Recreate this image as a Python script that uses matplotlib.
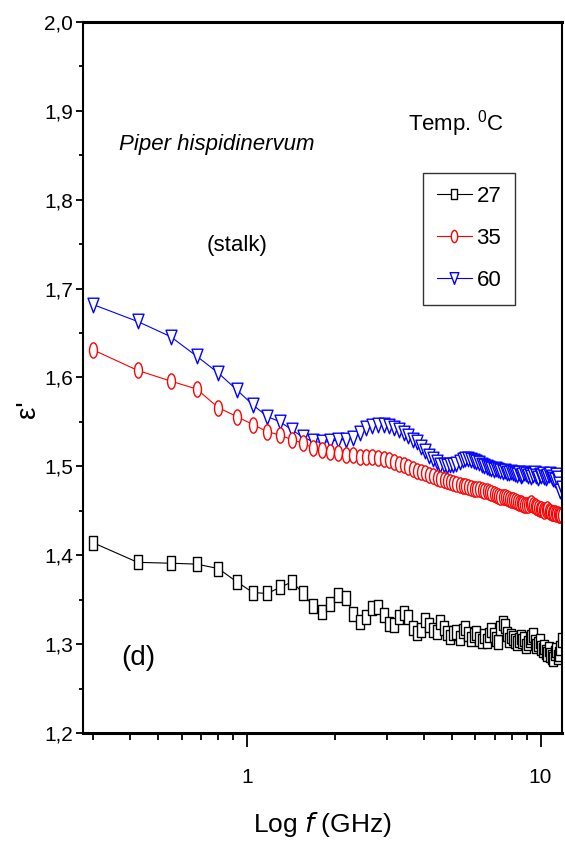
import matplotlib
matplotlib.use("Agg")
import matplotlib.pyplot as plt
from matplotlib.path import Path
from matplotlib.transforms import Affine2D
from matplotlib.ticker import FixedLocator, FixedFormatter, LogLocator, NullFormatter

# ── Data ───────────────────────────────────────────────────────────────
freq_ghz = [
    0.3, 0.425, 0.55, 0.675, 0.8, 0.925, 1.05, 1.175, 1.3, 1.425,
    1.55, 1.675, 1.8, 1.925, 2.05, 2.175, 2.3, 2.425, 2.55, 2.675,
    2.8, 2.925, 3.05, 3.175, 3.3, 3.425, 3.55, 3.675, 3.8, 3.925,
    4.05, 4.175, 4.3, 4.425, 4.55, 4.675, 4.8, 4.925, 5.05, 5.175,
    5.3, 5.425, 5.55, 5.675, 5.8, 5.925, 6.05, 6.175, 6.3, 6.425,
    6.55, 6.675, 6.8, 6.925, 7.05, 7.175, 7.3, 7.425, 7.55, 7.675,
    7.8, 7.925, 8.05, 8.175, 8.3, 8.425, 8.55, 8.675, 8.8, 8.925,
    9.05, 9.175, 9.3, 9.425, 9.55, 9.675, 9.8, 9.925, 10.05, 10.175,
    10.3, 10.425, 10.55, 10.675, 10.8, 10.925, 11.05, 11.175, 11.3, 11.425,
    11.55, 11.675, 11.8,
]

eps_27 = [
    1.414, 1.392, 1.391, 1.390, 1.385, 1.370, 1.358, 1.357, 1.364, 1.370,
    1.358, 1.343, 1.336, 1.345, 1.355, 1.352, 1.334, 1.325, 1.331, 1.341,
    1.342, 1.333, 1.323, 1.322, 1.330, 1.335, 1.330, 1.318, 1.313, 1.316,
    1.327, 1.322, 1.316, 1.314, 1.325, 1.318, 1.312, 1.308, 1.313, 1.314,
    1.307, 1.315, 1.318, 1.311, 1.306, 1.310, 1.313, 1.306, 1.304, 1.309,
    1.303, 1.310, 1.316, 1.310, 1.306, 1.302, 1.318, 1.324, 1.320, 1.311,
    1.305, 1.309, 1.307, 1.303, 1.301, 1.305, 1.308, 1.303, 1.306, 1.298,
    1.301, 1.305, 1.308, 1.310, 1.302, 1.298, 1.300, 1.303, 1.296, 1.293,
    1.297, 1.291, 1.289, 1.294, 1.288, 1.285, 1.283, 1.290, 1.293, 1.286,
    1.289, 1.296, 1.305,
]

eps_35 = [
    1.631, 1.608, 1.596, 1.587, 1.566, 1.556, 1.547, 1.539, 1.535, 1.530,
    1.526, 1.521, 1.518, 1.516, 1.515, 1.513, 1.513, 1.511, 1.511, 1.510,
    1.509, 1.508, 1.507, 1.505, 1.503, 1.501, 1.499, 1.497, 1.495, 1.494,
    1.492, 1.490, 1.489, 1.487, 1.486, 1.485, 1.484, 1.482, 1.481, 1.480,
    1.479, 1.478, 1.478, 1.477, 1.476, 1.475, 1.475, 1.474, 1.473, 1.472,
    1.472, 1.471, 1.470, 1.469, 1.468, 1.467, 1.466, 1.466, 1.465, 1.464,
    1.463, 1.462, 1.462, 1.461, 1.460, 1.459, 1.459, 1.458, 1.457, 1.456,
    1.456, 1.458, 1.459, 1.457, 1.455, 1.454, 1.453, 1.452, 1.452, 1.451,
    1.450, 1.451, 1.452, 1.450, 1.449, 1.448, 1.447, 1.447, 1.446, 1.446,
    1.445, 1.445, 1.445,
]

eps_60 = [
    1.682, 1.663, 1.646, 1.624, 1.605, 1.586, 1.569, 1.556, 1.550, 1.541,
    1.533, 1.528, 1.527, 1.528, 1.530, 1.530, 1.532, 1.538, 1.543, 1.545,
    1.546, 1.546, 1.545, 1.543, 1.541, 1.538, 1.534, 1.530, 1.527, 1.522,
    1.517, 1.512, 1.508, 1.505, 1.502, 1.501, 1.500, 1.501, 1.502, 1.503,
    1.505, 1.507, 1.508, 1.508, 1.507, 1.506, 1.505, 1.504, 1.502, 1.500,
    1.499, 1.498, 1.497, 1.496, 1.497, 1.496, 1.495, 1.494, 1.495, 1.493,
    1.492, 1.494, 1.492, 1.491, 1.490, 1.492, 1.489, 1.490, 1.492, 1.491,
    1.489, 1.490, 1.488, 1.490, 1.492, 1.489, 1.487, 1.490, 1.489, 1.491,
    1.488, 1.487, 1.489, 1.490, 1.491, 1.488, 1.486, 1.485, 1.490, 1.487,
    1.480, 1.472, 1.476,
]

y_ticks = [1.2, 1.3, 1.4, 1.5, 1.6, 1.7, 1.8, 1.9, 2.0]
y_labels = ["1,2", "1,3", "1,4", "1,5", "1,6", "1,7", "1,8", "1,9", "2,0"]
x_ticks = [1, 10]
x_labels = ["1", "10"]

# ── Style ──────────────────────────────────────────────────────────────
plt.rcParams["font.family"] = ["Liberation Sans", "DejaVu Sans"]
plt.rcParams["mathtext.default"] = "regular"

# the original symbols are squeezed horizontally
sq_marker = Path.unit_rectangle().transformed(Affine2D().translate(-0.5, -0.5).scale(0.55, 1.0))
circ_marker = Path.unit_circle().transformed(Affine2D().scale(0.52, 1.0))
tri_marker = Path([(-0.75, 1.0), (0.75, 1.0), (0.0, -1.0), (-0.75, 1.0)],
                  [Path.MOVETO, Path.LINETO, Path.LINETO, Path.CLOSEPOLY])


def main():
    fig = plt.figure(figsize=(5.65, 8.52), dpi=100)
    ax = fig.add_axes([0.147, 0.1397, 0.848, 0.8345])

    h60, = ax.plot(freq_ghz, eps_60, color="blue", lw=0.8, marker=tri_marker, ms=10.5,
                   mfc="white", mec="blue", mew=1.0, label="60")
    h35, = ax.plot(freq_ghz, eps_35, color="red", lw=0.8, marker=circ_marker, ms=11,
                   mfc="white", mec="red", mew=1.0, label="35")
    h27, = ax.plot(freq_ghz, eps_27, color="black", lw=0.8, marker=sq_marker, ms=9.5,
                   mfc="white", mec="black", mew=1.0, label="27")

    ax.set_xscale("log")
    ax.set_xlim(0.277, 11.85)
    ax.set_ylim(1.2, 2.0)

    ax.xaxis.set_major_locator(FixedLocator(x_ticks))
    ax.xaxis.set_major_formatter(FixedFormatter(x_labels))
    ax.xaxis.set_minor_locator(LogLocator(base=10, subs=range(2, 10)))
    ax.xaxis.set_minor_formatter(NullFormatter())
    ax.yaxis.set_major_locator(FixedLocator(y_ticks))
    ax.yaxis.set_major_formatter(FixedFormatter(y_labels))
    ax.yaxis.set_minor_locator(FixedLocator([v + 0.05 for v in y_ticks[:-1]]))

    ax.tick_params(axis="both", which="both", direction="out", top=False, right=False,
                   labelsize=15, width=1.3)
    ax.tick_params(axis="x", which="major", length=10, pad=15)
    ax.tick_params(axis="x", which="minor", length=5)
    ax.tick_params(axis="y", which="major", length=5, pad=2)
    ax.tick_params(axis="y", which="minor", length=3)

    ax.spines["top"].set_linewidth(2.2)
    ax.spines["bottom"].set_linewidth(2.2)
    ax.spines["left"].set_linewidth(1.5)
    ax.spines["right"].set_linewidth(1.5)

    # ── Labels and annotations ─────────────────────────────────────────
    fig.text(0.571, 0.032, "Log $\\it{f}$ (GHz)", fontsize=19, ha="center", va="center")
    fig.text(0.05, 0.52, "ε'", fontsize=20, rotation=90, ha="center", va="center")

    ax.text(0.28, 0.827, "Piper hispidinervum", style="italic", fontsize=16,
            transform=ax.transAxes, ha="center", va="center")
    ax.text(0.321, 0.686, "(stalk)", fontsize=16, transform=ax.transAxes,
            ha="center", va="center")
    ax.text(0.115, 0.105, "(d)", fontsize=20, transform=ax.transAxes,
            ha="center", va="center")
    ax.text(0.779, 0.857, "Temp. $^{0}$C", fontsize=16, transform=ax.transAxes,
            ha="center", va="center")

    leg = ax.legend(handles=[h27, h35, h60], loc="upper left",
                    bbox_to_anchor=(0.71, 0.788), fontsize=16, frameon=True,
                    fancybox=False, edgecolor="black", handlelength=1.6,
                    handletextpad=0.2, labelspacing=0.95, borderpad=0.6,
                    borderaxespad=0.0, markerscale=0.8)
    leg.get_frame().set_linewidth(1.0)

    fig.savefig("out.png", dpi=100)


if __name__ == "__main__":
    main()
